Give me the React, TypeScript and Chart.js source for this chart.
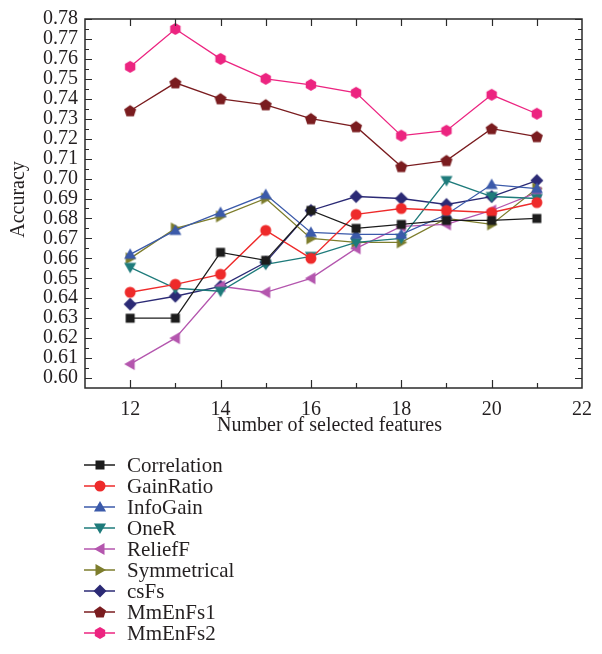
import React, { useEffect, useRef } from 'react';
import { Chart, registerables } from 'chart.js';

Chart.register(...registerables);

// ---- data ----
const featureCounts = [12, 13, 14, 15, 16, 17, 18, 19, 20, 21];
const correlation = [0.630, 0.630, 0.663, 0.659, 0.684, 0.675, 0.677, 0.679, 0.679, 0.680];
const gainRatio = [0.643, 0.647, 0.652, 0.674, 0.660, 0.682, 0.685, 0.684, 0.683, 0.688];
const infoGain = [0.662, 0.674, 0.683, 0.692, 0.673, 0.672, 0.672, 0.682, 0.697, 0.695];
const oneR = [0.6555, 0.645, 0.6435, 0.657, 0.661, 0.668, 0.670, 0.699, 0.691, 0.690];
const reliefF = [0.607, 0.620, 0.646, 0.643, 0.650, 0.665, 0.676, 0.677, 0.684, 0.693];
const symmetrical = [0.660, 0.675, 0.681, 0.690, 0.670, 0.668, 0.668, 0.680, 0.677, 0.695];
const csFs = [0.637, 0.641, 0.646, 0.658, 0.684, 0.691, 0.690, 0.687, 0.691, 0.699];
const mmEnFs1 = [0.734, 0.748, 0.740, 0.737, 0.730, 0.726, 0.706, 0.709, 0.725, 0.721];
const mmEnFs2 = [0.756, 0.775, 0.760, 0.750, 0.747, 0.743, 0.7215, 0.724, 0.742, 0.7325];

const seriesNames = ['Correlation', 'GainRatio', 'InfoGain', 'OneR', 'ReliefF', 'Symmetrical', 'csFs', 'MmEnFs1', 'MmEnFs2'];
const seriesValues = [correlation, gainRatio, infoGain, oneR, reliefF, symmetrical, csFs, mmEnFs1, mmEnFs2];
const seriesColors = ['#1c1c1c', '#ee2a2a', '#3b5aaa', '#1e7b7b', '#b456ae', '#7d7d2c', '#2b2a75', '#7a1c1f', '#ec2480'];
const seriesShapes = ['square', 'circle', 'up', 'down', 'left', 'right', 'diamond', 'pentagon', 'hexagon'];

const yTickValues = [0.60, 0.61, 0.62, 0.63, 0.64, 0.65, 0.66, 0.67, 0.68, 0.69, 0.70, 0.71, 0.72, 0.73, 0.74, 0.75, 0.76, 0.77, 0.78];
const xTickValues = [12, 14, 16, 18, 20, 22];
const xMin = 11, xMax = 22, yMin = 0.595, yMax = 0.78;

const FONT = "'Liberation Serif', 'Times New Roman', serif";
const TEXT = '#231f20';

function polygon(ctx: CanvasRenderingContext2D, cx: number, cy: number, r: number, n: number, startDeg: number) {
  ctx.beginPath();
  for (let i = 0; i < n; i++) {
    const a = (startDeg + (360 / n) * i) * Math.PI / 180;
    const px = cx + r * Math.cos(a);
    const py = cy + r * Math.sin(a);
    if (i === 0) ctx.moveTo(px, py); else ctx.lineTo(px, py);
  }
  ctx.closePath();
  ctx.fill();
}

function makeMarker(shape: string, color: string): HTMLCanvasElement {
  const s = 16;
  const c = document.createElement('canvas');
  c.width = s; c.height = s;
  const ctx = c.getContext('2d')!;
  ctx.fillStyle = color;
  const m = s / 2;
  switch (shape) {
    case 'square': ctx.fillRect(m - 4.5, m - 4.5, 9, 9); break;
    case 'circle': ctx.beginPath(); ctx.arc(m, m, 5.5, 0, Math.PI * 2); ctx.fill(); break;
    case 'up': polygon(ctx, m, m + 1, 7, 3, -90); break;
    case 'down': polygon(ctx, m, m - 1, 7, 3, 90); break;
    case 'left': polygon(ctx, m + 1, m, 7, 3, 180); break;
    case 'right': polygon(ctx, m - 1, m, 7, 3, 0); break;
    case 'diamond': polygon(ctx, m, m, 6.5, 4, -90); break;
    case 'pentagon': polygon(ctx, m, m + 0.5, 6.3, 5, -90); break;
    case 'hexagon': polygon(ctx, m, m, 6, 6, -90); break;
  }
  return c;
}

export default function App() {
  const ref = useRef<HTMLCanvasElement | null>(null);

  useEffect(() => {
    if (!ref.current) return;
    const markers = seriesShapes.map((sh, i) => makeMarker(sh, seriesColors[i]));

    const datasets = seriesNames.map((name, i) => ({
      label: name,
      data: featureCounts.map((x, j) => ({ x, y: seriesValues[i][j] })),
      borderColor: seriesColors[i],
      backgroundColor: seriesColors[i],
      borderWidth: 1.3,
      pointStyle: markers[i] as any,
      pointRadius: 6,
      tension: 0,
      fill: false,
    }));

    const framePlugin = {
      id: 'frame',
      afterDraw(chart: any) {
        const { ctx, chartArea } = chart;
        const { left, right, top, bottom } = chartArea;
        const xs = chart.scales.x;
        const ys = chart.scales.y;
        ctx.save();
        ctx.strokeStyle = '#2a2a2a';
        ctx.lineWidth = 1.5;
        ctx.strokeRect(left, top, right - left, bottom - top);
        ctx.lineWidth = 1.2;
        ctx.beginPath();
        for (let k = 120; k <= 156; k++) {
          const py = Math.round(ys.getPixelForValue(k * 0.005)) + 0.5;
          const len = k % 2 === 0 ? 7 : 4;
          ctx.moveTo(left, py); ctx.lineTo(left + len, py);
          ctx.moveTo(right, py); ctx.lineTo(right - len, py);
        }
        for (let n = 12; n <= 21; n++) {
          const px = Math.round(xs.getPixelForValue(n)) + 0.5;
          const len = n % 2 === 0 ? 8 : 5;
          ctx.moveTo(px, bottom); ctx.lineTo(px, bottom - len);
          ctx.moveTo(px, top); ctx.lineTo(px, top + 7);
        }
        ctx.stroke();

        // axis titles
        ctx.fillStyle = TEXT;
        ctx.font = `20px ${FONT}`;
        ctx.textAlign = 'center';
        ctx.textBaseline = 'middle';
        ctx.fillText('Number of selected features', (left + right) / 2 - 4, 426);
        ctx.save();
        ctx.translate(19, (top + bottom) / 2 - 4);
        ctx.rotate(-Math.PI / 2);
        ctx.fillText('Accuracy', 0, 0);
        ctx.restore();

        // legend
        ctx.font = `21px ${FONT}`;
        ctx.textAlign = 'left';
        chart.data.datasets.forEach((ds: any, i: number) => {
          const cy = 465 + i * 21;
          ctx.strokeStyle = ds.borderColor;
          ctx.lineWidth = 1.5;
          ctx.beginPath();
          ctx.moveTo(84, cy); ctx.lineTo(115, cy);
          ctx.stroke();
          ctx.drawImage(markers[i], 100 - 8, cy - 8);
          ctx.fillStyle = TEXT;
          ctx.fillText(ds.label, 127, cy + 1);
        });
        ctx.restore();
      },
    };

    const chart = new Chart(ref.current, {
      type: 'line',
      data: { datasets: datasets as any },
      options: {
        animation: false,
        responsive: false,
        devicePixelRatio: 1,
        layout: { padding: { left: 0, top: 14, right: 10, bottom: 0 } },
        plugins: { legend: { display: false }, tooltip: { enabled: false } },
        scales: {
          x: {
            type: 'linear',
            min: xMin,
            max: xMax,
            grid: { display: false, drawTicks: false },
            border: { display: false },
            ticks: { padding: 10, autoSkip: false, maxRotation: 0, color: TEXT, font: { family: FONT, size: 20 } },
            afterBuildTicks: (scale: any) => { scale.ticks = xTickValues.map((v) => ({ value: v })); },
            afterFit: (scale: any) => { scale.height = 266; },
          },
          y: {
            type: 'linear',
            min: yMin,
            max: yMax,
            grid: { display: false, drawTicks: false },
            border: { display: false },
            ticks: {
              padding: 7,
              autoSkip: false,
              color: TEXT,
              font: { family: FONT, size: 20 },
              callback: (v: any) => Number(v).toFixed(2),
            },
            afterBuildTicks: (scale: any) => { scale.ticks = yTickValues.map((v) => ({ value: v })); },
            afterFit: (scale: any) => { scale.width = 85; },
          },
        },
      },
      plugins: [framePlugin],
    });
    return () => chart.destroy();
  }, []);

  return (
    <div style={{ position: 'absolute', left: 0, top: 0, width: 602, height: 654, background: '#fff' }}>
      <canvas ref={ref} width={602} height={654} style={{ display: 'block' }} />
    </div>
  );
}
